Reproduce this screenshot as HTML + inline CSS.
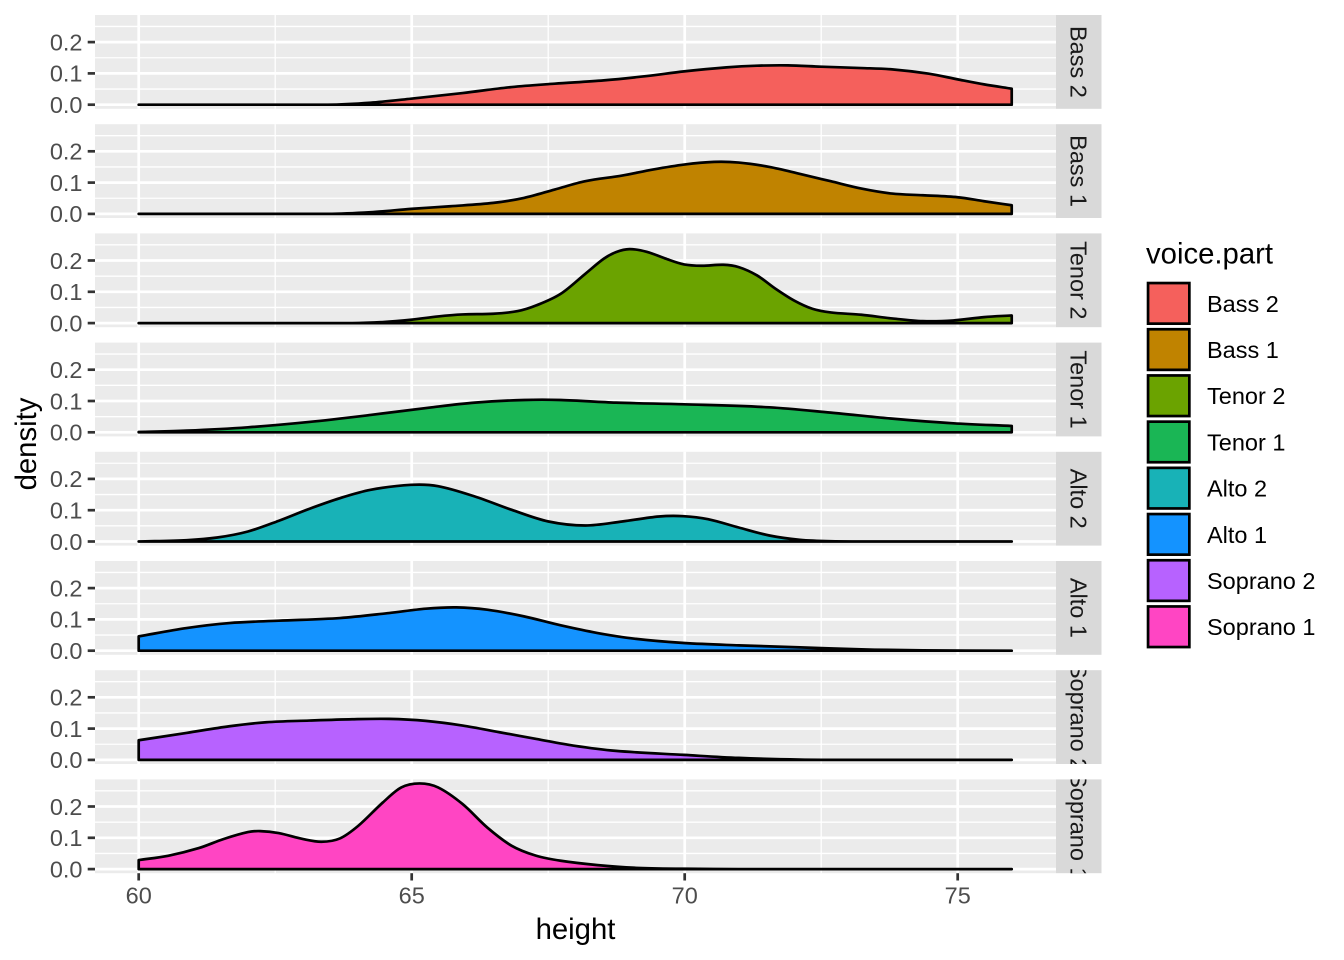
<!DOCTYPE html>
<html><head><meta charset="utf-8"><style>
html,body{margin:0;padding:0;background:#fff;}
svg{display:block;}
text{font-family:"Liberation Sans",Arial,sans-serif;}
</style></head><body>
<svg width="1344" height="960" viewBox="0 0 1344 960" xmlns="http://www.w3.org/2000/svg">
<defs>
<clipPath id="sc" clipPathUnits="userSpaceOnUse"><rect x="1056" y="0" width="45.5" height="93.8"/></clipPath>
<g id="grid">
<rect x="95" y="0" width="961" height="93.8" fill="#EBEBEB"/>
<g stroke="#fff" stroke-width="1.35">
<line x1="95" x2="1056" y1="74.05" y2="74.05"/><line x1="95" x2="1056" y1="42.75" y2="42.75"/><line x1="95" x2="1056" y1="11.45" y2="11.45"/>
<line x1="275.2" x2="275.2" y1="0" y2="93.8"/><line x1="548.2" x2="548.2" y1="0" y2="93.8"/><line x1="821.2" x2="821.2" y1="0" y2="93.8"/>
</g>
<g stroke="#fff" stroke-width="2.7">
<line x1="95" x2="1056" y1="89.7" y2="89.7"/><line x1="95" x2="1056" y1="58.4" y2="58.4"/><line x1="95" x2="1056" y1="27.1" y2="27.1"/>
<line x1="138.7" x2="138.7" y1="0" y2="93.8"/><line x1="411.7" x2="411.7" y1="0" y2="93.8"/><line x1="684.7" x2="684.7" y1="0" y2="93.8"/><line x1="957.7" x2="957.7" y1="0" y2="93.8"/>
</g>
<g stroke="#333" stroke-width="2.7">
<line x1="87.7" x2="95" y1="89.7" y2="89.7"/><line x1="87.7" x2="95" y1="58.4" y2="58.4"/><line x1="87.7" x2="95" y1="27.1" y2="27.1"/>
</g>
<g font-size="23.5" fill="#4D4D4D" text-anchor="end">
<text x="82.5" y="98">0.0</text><text x="82.5" y="66.7">0.1</text><text x="82.5" y="35.4">0.2</text>
</g>
<rect x="1056" y="0" width="45.5" height="93.8" fill="#D9D9D9"/>
</g>
</defs>
<rect width="1344" height="960" fill="#fff"/>

<!-- Panel 0: Bass 2 -->
<g transform="translate(0,15)">
<use href="#grid"/>
<g transform="translate(94.53,89.7) scale(0.6135,0.3333)">
<path class="dens" vector-effect="non-scaling-stroke" fill="#F5605C" stroke="#000" stroke-width="2.7" stroke-linejoin="round" d="M72,0 L380,0 L450,-6 L516,-18 L600,-35 L680,-53 L750,-63 L830,-73 L900,-86 L961,-100 L1030,-112 L1080,-117 L1130,-118 L1184,-114 L1250,-110 L1300,-106 L1360,-93 L1407,-76 L1450,-61 L1495,-48 L1495,0 Z"/>
</g>
<g clip-path="url(#sc)"><text transform="translate(1078.7,46.9) rotate(90)" dy="8.4" text-anchor="middle" font-size="23.5" fill="#1A1A1A">Bass 2</text></g>
</g>

<!-- Panel 1: Bass 1 -->
<g transform="translate(0,124.2)">
<use href="#grid"/>
<g transform="translate(94.53,89.7) scale(0.6135,0.3333)">
<path class="dens" vector-effect="non-scaling-stroke" fill="#C08300" stroke="#000" stroke-width="2.7" stroke-linejoin="round" d="M72,0 L380,0 L450,-5 L516,-15 L580,-23 L650,-33 L700,-48 L750,-73 L800,-98 L860,-115 L910,-133 L961,-148 L1010,-156 L1050,-154 L1100,-141 L1150,-120 L1200,-98 L1250,-76 L1300,-61 L1350,-56 L1407,-50 L1450,-38 L1495,-26 L1495,0 Z"/>
</g>
<g clip-path="url(#sc)"><text transform="translate(1078.7,46.9) rotate(90)" dy="8.4" text-anchor="middle" font-size="23.5" fill="#1A1A1A">Bass 1</text></g>
</g>

<!-- Panel 2: Tenor 2 -->
<g transform="translate(0,233.4)">
<use href="#grid"/>
<g transform="translate(94.53,89.7) scale(0.6135,0.3333)">
<path class="dens" vector-effect="non-scaling-stroke" fill="#6BA300" stroke="#000" stroke-width="2.7" stroke-linejoin="round" d="M72,0 L420,0 L470,-3 L516,-10 L560,-20 L600,-26 L650,-28 L690,-36 L720,-53 L760,-88 L800,-148 L830,-193 L850,-213 L872,-222 L900,-214 L930,-194 L961,-176 L990,-172 L1025,-175 L1050,-168 L1080,-143 L1110,-103 L1140,-68 L1170,-43 L1200,-32 L1250,-25 L1300,-14 L1350,-6 L1400,-8 L1450,-18 L1495,-23 L1495,0 Z"/>
</g>
<g clip-path="url(#sc)"><text transform="translate(1078.7,46.9) rotate(90)" dy="8.4" text-anchor="middle" font-size="23.5" fill="#1A1A1A">Tenor 2</text></g>
</g>

<!-- Panel 3: Tenor 1 -->
<g transform="translate(0,342.6)">
<use href="#grid"/>
<g transform="translate(94.53,89.7) scale(0.6135,0.3333)">
<path class="dens" vector-effect="non-scaling-stroke" fill="#1AB655" stroke="#000" stroke-width="2.7" stroke-linejoin="round" d="M72,0 L72,-1 L150,-5 L250,-15 L350,-31 L450,-52 L550,-75 L620,-89 L700,-97 L760,-97 L850,-89 L961,-84 L1100,-75 L1200,-59 L1300,-41 L1400,-27 L1495,-19 L1495,0 Z"/>
</g>
<g clip-path="url(#sc)"><text transform="translate(1078.7,46.9) rotate(90)" dy="8.4" text-anchor="middle" font-size="23.5" fill="#1A1A1A">Tenor 1</text></g>
</g>

<!-- Panel 4: Alto 2 -->
<g transform="translate(0,451.8)">
<use href="#grid"/>
<g transform="translate(94.53,89.7) scale(0.6135,0.3333)">
<path class="dens" vector-effect="non-scaling-stroke" fill="#18B2B7" stroke="#000" stroke-width="2.7" stroke-linejoin="round" d="M72,0 L150,-4 L200,-12 L250,-30 L300,-62 L350,-98 L400,-130 L450,-155 L516,-170 L560,-166 L620,-135 L680,-95 L740,-60 L800,-48 L860,-60 L920,-75 L960,-76 L1000,-67 L1050,-42 L1100,-18 L1150,-5 L1200,-1 L1300,0 L1495,0 Z"/>
</g>
<g clip-path="url(#sc)"><text transform="translate(1078.7,46.9) rotate(90)" dy="8.4" text-anchor="middle" font-size="23.5" fill="#1A1A1A">Alto 2</text></g>
</g>

<!-- Panel 5: Alto 1 -->
<g transform="translate(0,561)">
<use href="#grid"/>
<g transform="translate(94.53,89.7) scale(0.6135,0.3333)">
<path class="dens" vector-effect="non-scaling-stroke" fill="#1493FF" stroke="#000" stroke-width="2.7" stroke-linejoin="round" d="M72,0 L72,-43 L150,-68 L220,-83 L300,-90 L400,-98 L480,-113 L540,-126 L590,-130 L640,-123 L700,-103 L760,-76 L820,-53 L880,-36 L961,-23 L1050,-16 L1150,-10 L1250,-4 L1350,-1 L1495,0 Z"/>
</g>
<g clip-path="url(#sc)"><text transform="translate(1078.7,46.9) rotate(90)" dy="8.4" text-anchor="middle" font-size="23.5" fill="#1A1A1A">Alto 1</text></g>
</g>

<!-- Panel 6: Soprano 2 -->
<g transform="translate(0,670.2)">
<use href="#grid"/>
<g transform="translate(94.53,89.7) scale(0.6135,0.3333)">
<path class="dens" vector-effect="non-scaling-stroke" fill="#B762FF" stroke="#000" stroke-width="2.7" stroke-linejoin="round" d="M72,0 L72,-59 L150,-81 L220,-101 L280,-113 L350,-118 L420,-122 L480,-123 L540,-117 L600,-103 L660,-83 L720,-63 L780,-43 L850,-27 L961,-15 L1050,-6 L1150,-1 L1250,0 L1495,0 Z"/>
</g>
<g clip-path="url(#sc)"><text transform="translate(1078.7,46.9) rotate(90)" dy="8.4" text-anchor="middle" font-size="23.5" fill="#1A1A1A">Soprano 2</text></g>
</g>

<!-- Panel 7: Soprano 1 -->
<g transform="translate(0,779.4)">
<use href="#grid"/>
<g transform="translate(94.53,89.7) scale(0.6135,0.3333)">
<path class="dens" vector-effect="non-scaling-stroke" fill="#FF45C3" stroke="#000" stroke-width="2.7" stroke-linejoin="round" d="M72,0 L72,-27 L120,-40 L170,-63 L210,-90 L250,-111 L270,-114 L300,-108 L340,-90 L370,-82 L400,-92 L430,-130 L470,-200 L500,-245 L530,-257 L560,-245 L600,-195 L640,-125 L680,-70 L720,-40 L760,-25 L820,-12 L880,-4 L961,-1 L1050,0 L1495,0 Z"/>
</g>
<g clip-path="url(#sc)"><text transform="translate(1078.7,46.9) rotate(90)" dy="8.4" text-anchor="middle" font-size="23.5" fill="#1A1A1A">Soprano 1</text></g>
</g>

<!-- X axis -->
<g stroke="#333" stroke-width="2.7">
<line x1="138.7" x2="138.7" y1="873.2" y2="880.5"/><line x1="411.7" x2="411.7" y1="873.2" y2="880.5"/><line x1="684.7" x2="684.7" y1="873.2" y2="880.5"/><line x1="957.7" x2="957.7" y1="873.2" y2="880.5"/>
</g>
<g font-size="23.5" fill="#4D4D4D" text-anchor="middle">
<text x="138.7" y="903.5">60</text><text x="411.7" y="903.5">65</text><text x="684.7" y="903.5">70</text><text x="957.7" y="903.5">75</text>
</g>
<text x="575.5" y="939" font-size="29.3" text-anchor="middle" fill="#000">height</text>
<text transform="translate(36,444) rotate(-90)" font-size="29.3" text-anchor="middle" fill="#000">density</text>

<!-- Legend -->
<text x="1146" y="263.5" font-size="29.3" fill="#000">voice.part</text>
<g stroke="#000" stroke-width="2.7">
<rect x="1148.05" y="283.05" width="41.3" height="40.6" fill="#F5605C"/>
<rect x="1148.05" y="329.25" width="41.3" height="40.6" fill="#C08300"/>
<rect x="1148.05" y="375.45" width="41.3" height="40.6" fill="#6BA300"/>
<rect x="1148.05" y="421.65" width="41.3" height="40.6" fill="#1AB655"/>
<rect x="1148.05" y="467.85" width="41.3" height="40.6" fill="#18B2B7"/>
<rect x="1148.05" y="514.05" width="41.3" height="40.6" fill="#1493FF"/>
<rect x="1148.05" y="560.25" width="41.3" height="40.6" fill="#B762FF"/>
<rect x="1148.05" y="606.45" width="41.3" height="40.6" fill="#FF45C3"/>
</g>
<g font-size="23.5" fill="#000">
<text x="1207" y="311.8">Bass 2</text>
<text x="1207" y="358">Bass 1</text>
<text x="1207" y="404.2">Tenor 2</text>
<text x="1207" y="450.4">Tenor 1</text>
<text x="1207" y="496.6">Alto 2</text>
<text x="1207" y="542.8">Alto 1</text>
<text x="1207" y="589">Soprano 2</text>
<text x="1207" y="635.2">Soprano 1</text>
</g>
</svg>
<script>
(function(){
  var paths=document.querySelectorAll('path.dens');
  for(var q=0;q<paths.length;q++){
    var p=paths[q];
    var nums=p.getAttribute('d').match(/-?\d+(\.\d+)?/g).map(Number);
    var pts=[];for(var i=0;i<nums.length;i+=2)pts.push([nums[i],nums[i+1]]);
    var f=function(a){return a[0].toFixed(2)+','+a[1].toFixed(2);};
    var d='M'+f(pts[0]);
    i=0;
    while(i<pts.length-1){
      if(pts[i+1][0]>pts[i][0]){
        var j=i;while(j<pts.length-1&&pts[j+1][0]>pts[j][0])j++;
        var m=[];
        for(var k=i;k<=j;k++){
          var s;
          if(k===i)s=(pts[k+1][1]-pts[k][1])/(pts[k+1][0]-pts[k][0]);
          else if(k===j)s=(pts[k][1]-pts[k-1][1])/(pts[k][0]-pts[k-1][0]);
          else s=(pts[k+1][1]-pts[k-1][1])/(pts[k+1][0]-pts[k-1][0]);
          m[k]=s;
        }
        for(k=i;k<j;k++){
          var p1=pts[k],p2=pts[k+1],h=p2[0]-p1[0];
          var c1=[p1[0]+h/3,Math.min(0,p1[1]+m[k]*h/3)];
          var c2=[p2[0]-h/3,Math.min(0,p2[1]-m[k+1]*h/3)];
          d+=' C'+f(c1)+' '+f(c2)+' '+f(p2);
        }
        i=j;
      }else{d+=' L'+f(pts[i+1]);i++;}
    }
    d+=' Z';
    p.setAttribute('d',d);
  }
})();
</script>
</body></html>
